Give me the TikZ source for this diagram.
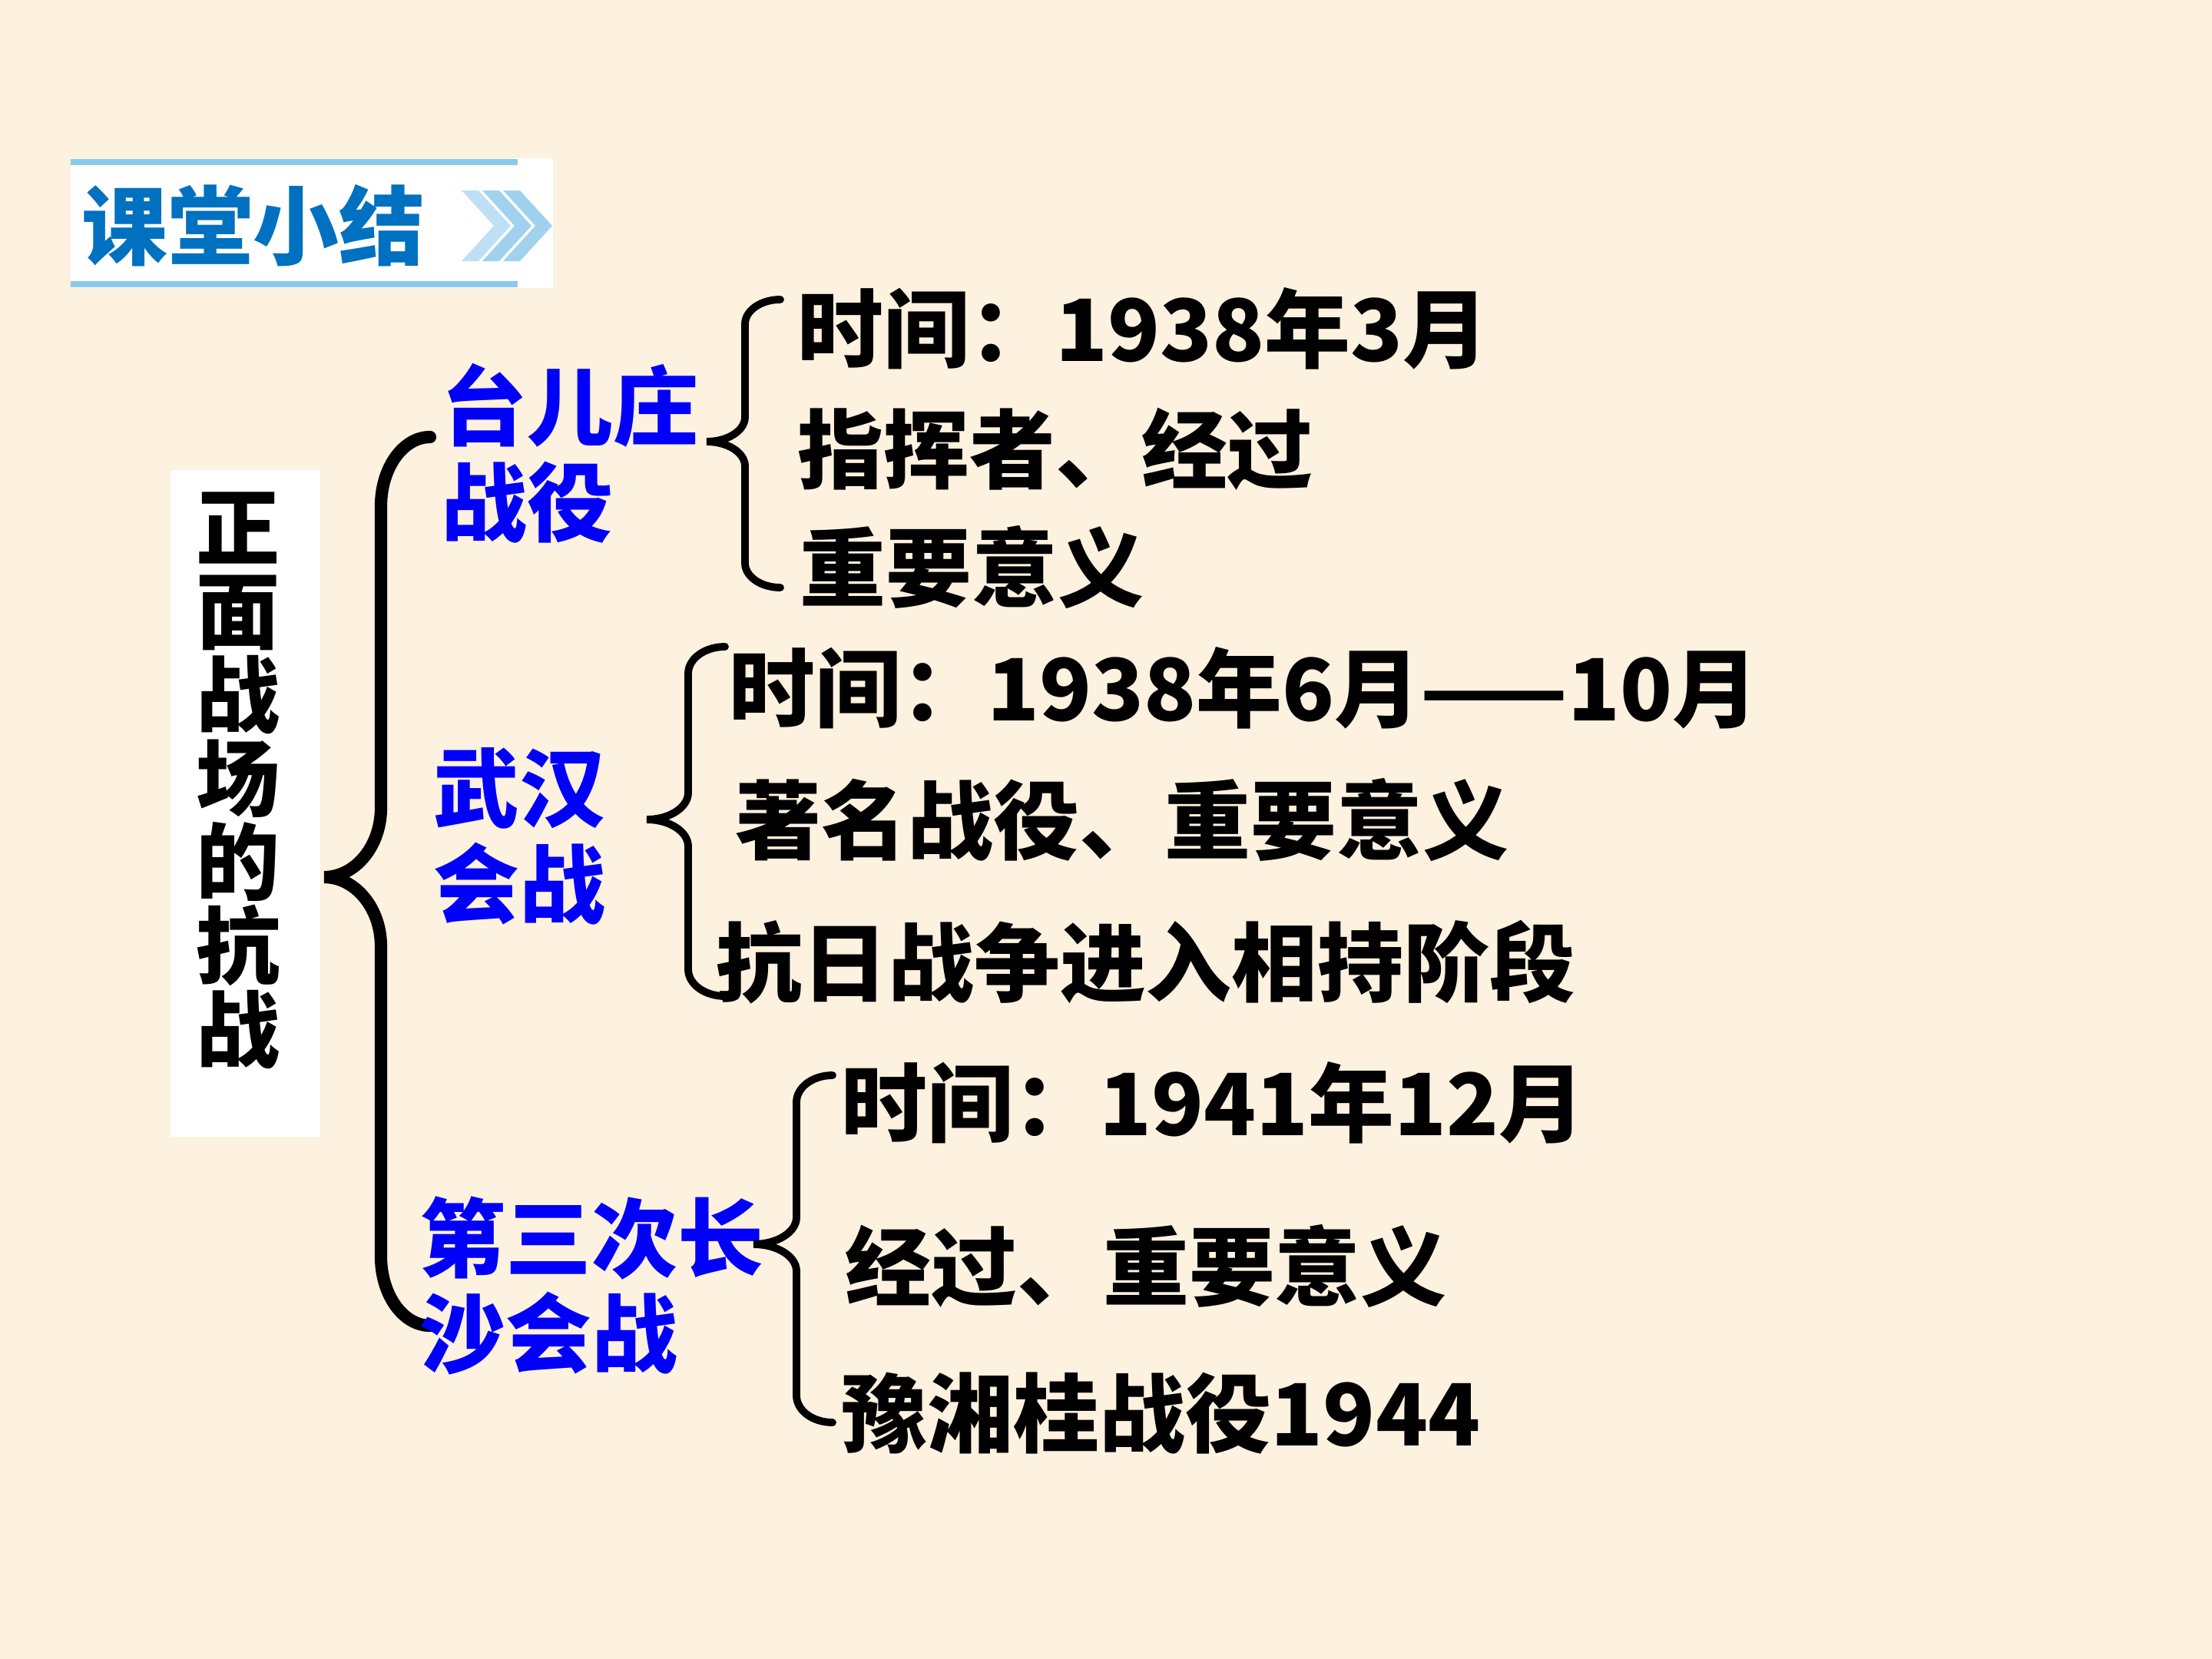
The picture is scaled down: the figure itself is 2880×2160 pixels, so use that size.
\documentclass[tikz,border=0pt]{standalone}
\usepackage{fontspec}
\newfontfamily\cjk{Noto Sans CJK SC}
\usetikzlibrary{positioning}

\definecolor{paper}{RGB}{253,241,223}
\definecolor{titleblue}{RGB}{0,112,192}
\definecolor{lineblue}{RGB}{137,203,234}
\definecolor{chevlight}{RGB}{190,224,244}
\definecolor{chevblue}{RGB}{160,210,239}
\definecolor{battleblue}{RGB}{0,0,250}

% left curly brace: end x, spine x, tip x, top y, tip y, bottom y, bend
\newcommand{\curly}[7]{%
  (#1,#4) .. controls ({#1-0.552*(#1-#2)},#4) and (#2,{#4+0.448*#7}) .. (#2,{#4+#7})
  -- (#2,{#5-#7}) .. controls (#2,{#5-0.45*#7}) and ({#2-0.45*(#2-#3)},#5) .. (#3,#5)
  .. controls ({#2-0.45*(#2-#3)},#5) and (#2,{#5+0.45*#7}) .. (#2,{#5+#7})
  -- (#2,{#6-#7}) .. controls (#2,{#6-0.448*#7}) and ({#1-0.552*(#1-#2)},#6) .. (#1,#6)}

\begin{document}
\begin{tikzpicture}[x=0.01cm, y=-0.01cm,
    item/.style={anchor=west, inner sep=0pt, font=\cjk\bfseries\fontsize{31.8}{36}\selectfont},
    battle/.style={anchor=west, inner sep=0pt, align=left, text=battleblue,
                   font=\cjk\bfseries\fontsize{31.8}{35.5}\selectfont},
    brc/.style={line width=2.8pt, line cap=round},
]
\fill[paper] (0,0) rectangle (2880,2160);

% title bar
\fill[white] (92,206) rectangle (720,375);
\fill[lineblue] (92,207) rectangle (674,215);
\fill[lineblue] (92,366) rectangle (674,374);
\foreach \x/\c in {601/chevlight, 628/chevblue, 655/chevblue}
  \fill[\c] (\x,248) -- ++(22,0) -- ++(42,46) -- ++(-42,46) -- ++(-22,0) -- ++(42,-46) -- cycle;
\node[font=\cjk\bfseries\fontsize{31.8}{36}\selectfont, text=titleblue, inner sep=0pt] (title) at (330,294) {课堂小结};

% side label
\fill[white] (222,612) rectangle (417,1480);
\node[font=\cjk\bfseries\fontsize{31}{31}\selectfont, align=center, inner sep=0pt] (side) at (310,1016)
  {正\\面\\战\\场\\的\\抗\\战};

% main brace
\draw[brc, line width=4.6pt] \curly{560}{496}{422}{569}{1142}{1726}{90};

% battles
\node[battle] (tez) at (574,590) {台儿庄\\战役};
\node[battle] (wh) at (564,1089) {武汉\\会战};
\node[battle] (cs) at (546,1674) {第三次长\\沙会战};

% sub braces
\draw[brc] \curly{1016}{970}{920}{390}{575}{765}{32};
\draw[brc] \curly{944}{896}{842}{842}{1067}{1297}{35};
\draw[brc] \curly{1084}{1037}{981}{1400}{1620}{1852}{35};

% items
\node[item] (t1) at (1038,428) {时间：1938年3月};
\node[item] (z1) at (1038,585) {指挥者、经过};
\node[item] (y1) at (1041,738) {重要意义};

\node[item] (t2) at (949,896) {时间：1938年6月——10月};
\node[item] (z2) at (957,1067) {著名战役、重要意义};
\node[item] (y2) at (932,1253) {抗日战争进入相持阶段};

\node[item] (t3) at (1095,1436) {时间：1941年12月};
\node[item] (z3) at (1100,1648) {经过、重要意义};
\node[item] (y3) at (1095,1840) {豫湘桂战役1944};
\end{tikzpicture}
\end{document}
